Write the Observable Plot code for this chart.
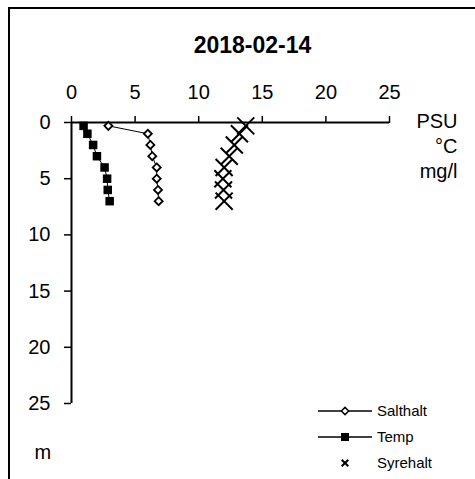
<!DOCTYPE html>
<html>
<head>
<meta charset="utf-8">
<script src="https://cdn.jsdelivr.net/npm/d3@7"></script>
<script src="https://cdn.jsdelivr.net/npm/@observablehq/plot@0.6"></script>
<style>
  html, body { margin: 0; padding: 0; background: #fff; }
  #chart { width: 475px; height: 479px; overflow: hidden; }
</style>
</head>
<body>
<div id="chart"></div>
<script>
// ---- data ----
const title = "2018-02-14";
const depths = [0.3, 1, 2, 3, 4, 5, 6, 7];          // m
const salthalt = [2.9, 6.0, 6.2, 6.35, 6.7, 6.7, 6.8, 6.85]; // PSU
const temp = [0.95, 1.25, 1.7, 2.0, 2.6, 2.8, 2.85, 3.0];    // °C
const syrehalt = [13.7, 13.2, 12.8, 12.4, 12.0, 11.9, 11.95, 12.0]; // mg/l
const xTicks = [0, 5, 10, 15, 20, 25];
const yTicks = [0, 5, 10, 15, 20, 25];
const units = ["PSU", "°C", "mg/l"];
const depthUnit = "m";
const seriesNames = ["Salthalt", "Temp", "Syrehalt"];

const salt = depths.map((d, i) => ({depth: d, value: salthalt[i]}));
const tmp = depths.map((d, i) => ({depth: d, value: temp[i]}));
const oxy = depths.map((d, i) => ({depth: d, value: syrehalt[i]}));

const font = "'Liberation Sans', Arial, sans-serif";

const chart = Plot.plot({
  width: 475,
  height: 479,
  marginLeft: 71,
  marginRight: 86,
  marginTop: 122,
  marginBottom: 76,
  style: {fontFamily: font, fontSize: "20px", color: "#000", background: "#fff", overflow: "visible"},
  x: {domain: [0, 25]},
  y: {domain: [0, 25], reverse: true},
  marks: [
    Plot.axisX({anchor: "top", ticks: xTicks, tickSize: 7, tickPadding: 17, label: null, fontSize: 20, strokeWidth: 1.5}),
    Plot.axisY({anchor: "left", ticks: yTicks, tickSize: 7, tickPadding: 14, label: null, fontSize: 20, strokeWidth: 1.5}),
    Plot.ruleY([0], {stroke: "#000", strokeWidth: 2}),
    Plot.ruleX([0], {stroke: "#000", strokeWidth: 2}),
    Plot.line(salt, {x: "value", y: "depth", stroke: "#000", strokeWidth: 1}),
    Plot.dot(salt, {x: "value", y: "depth", symbol: "diamond2", r: 3.6, fill: "#fff", stroke: "#000", strokeWidth: 1.8}),
    Plot.line(tmp, {x: "value", y: "depth", stroke: "#000", strokeWidth: 1}),
    Plot.dot(tmp, {x: "value", y: "depth", symbol: "square", r: 4.8, fill: "#000", stroke: "none"}),
    Plot.dot(oxy, {x: "value", y: "depth", symbol: "times", r: 7.8, stroke: "#000", strokeWidth: 2}),
    Plot.text([title], {frameAnchor: "top", dx: 22, dy: -86, text: d => d, fontWeight: "bold", fontSize: 23, letterSpacing: 1.5}),
    Plot.text([units.join("\n")], {frameAnchor: "top-right", dx: 68, dy: -12, text: d => d, textAnchor: "end", fontSize: 20, lineHeight: 1.25, lineAnchor: "top"}),
    Plot.text([depthUnit], {frameAnchor: "bottom-left", dx: -37, dy: 55, text: d => d, fontSize: 20})
  ]
});

document.getElementById("chart").appendChild(chart);

// outer frame (partly outside the window) and legend
const svg = d3.select(chart);
svg.insert("rect", ":first-child")
  .attr("x", 9).attr("y", 8).attr("width", 600).attr("height", 600)
  .attr("fill", "none").attr("stroke", "#000").attr("stroke-width", 2);

const legend = svg.append("g").attr("transform", "translate(318,411)");
const rowH = 26;
seriesNames.forEach((name, i) => {
  const g = legend.append("g").attr("transform", `translate(0,${i * rowH})`);
  if (i < 2) {
    g.append("line").attr("x1", 0).attr("x2", 54).attr("y1", 0).attr("y2", 0)
      .attr("stroke", "#000").attr("stroke-width", 1.5);
  }
  if (i === 0) {
    g.append("path").attr("transform", "translate(27,0)")
      .attr("d", d3.symbol(d3.symbolDiamond2, 34)())
      .attr("fill", "#fff").attr("stroke", "#000").attr("stroke-width", 1.5);
  } else if (i === 1) {
    g.append("path").attr("transform", "translate(27,0)")
      .attr("d", d3.symbol(d3.symbolSquare, 64)())
      .attr("fill", "#000");
  } else {
    g.append("path").attr("transform", "translate(27,0)")
      .attr("d", d3.symbol(d3.symbolTimes, 30)())
      .attr("fill", "none").attr("stroke", "#000").attr("stroke-width", 2);
  }
  g.append("text").attr("x", 59).attr("y", 0).attr("dy", "0.35em")
    .attr("text-anchor", "start")
    .attr("font-family", font).attr("font-size", 15).attr("fill", "#000")
    .text(name);
});
</script>
</body>
</html>
